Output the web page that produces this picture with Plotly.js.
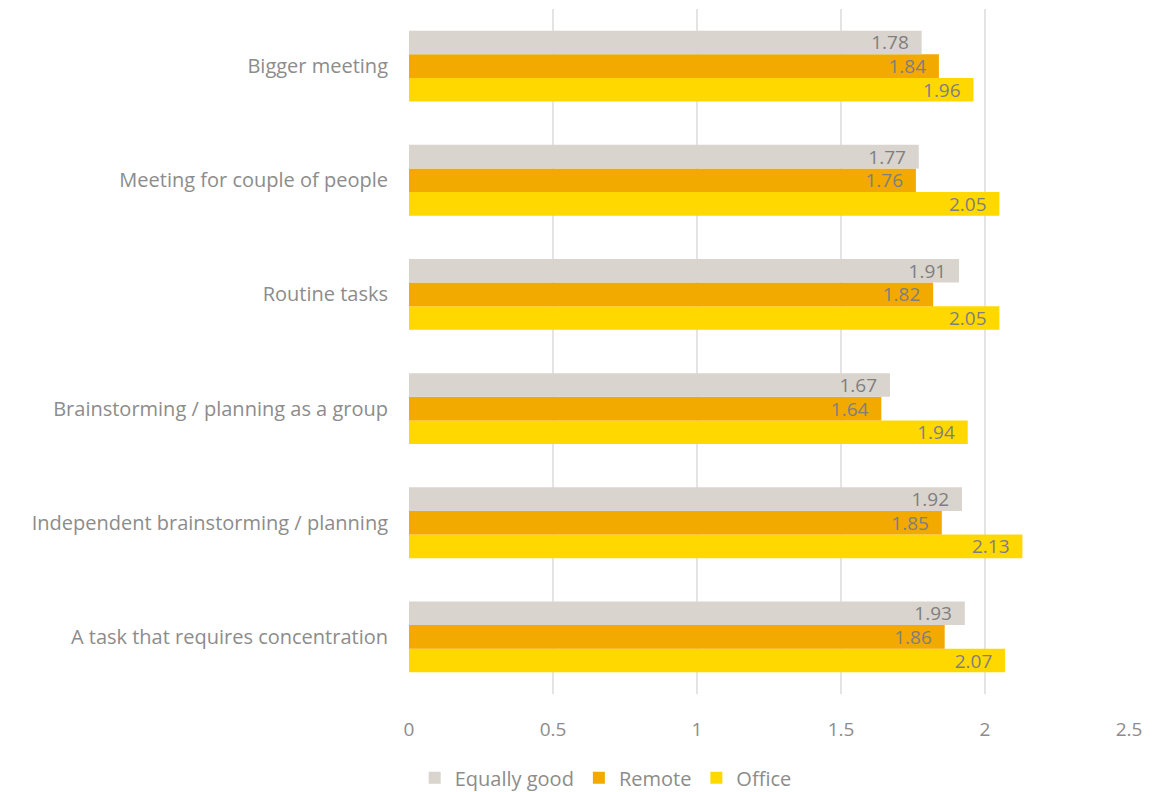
<!DOCTYPE html>
<html><head><meta charset="utf-8">
<script src="https://cdn.plot.ly/plotly-3.0.1.min.js"></script>
<style>body{margin:0;background:#fff}#c{width:1167px;height:792px}</style>
</head><body><div id="c"></div>
<script>
var categories = ["A task that requires concentration","Independent brainstorming / planning","Brainstorming / planning as a group","Routine tasks","Meeting for couple of people","Bigger meeting"];
var equallyGood = [1.93,1.92,1.67,1.91,1.77,1.78];
var remote = [1.86,1.85,1.64,1.82,1.76,1.84];
var office = [2.07,2.13,1.94,2.05,2.05,1.96];
var seriesNames = ["Equally good","Remote","Office"];
var tickVals = [0,0.5,1,1.5,2,2.5];
var tickText = ["0","0.5","1","1.5","2","2.5"];

var FONT = "Open Sans, Lato, sans-serif";
function mk(name, vals, color){
  return {type:'bar', orientation:'h', name:name, y:categories, x:vals,
    marker:{color:color},
    text:vals.map(function(v){return v.toFixed(2) + '\u00a0\u00a0';}),
    textposition:'inside', insidetextanchor:'end', constraintext:'none',
    textfont:{family:FONT,size:19,color:'#7f7f7f'}, hoverinfo:'x+name'};
}
var data = [mk(seriesNames[2], office, '#ffd800'), mk(seriesNames[1], remote, '#f2a900'), mk(seriesNames[0], equallyGood, '#d9d4ce')];
var layout = {
  width:1167, height:792, margin:{l:409,r:38,t:9,b:98},
  paper_bgcolor:'#fff', plot_bgcolor:'#fff',
  barmode:'group', bargap:0.38, bargroupgap:0,
  font:{family:FONT,color:'#7f7f7f'},
  xaxis:{range:[0,2.5], tickvals:tickVals, ticktext:tickText, showgrid:true, gridcolor:'#e4e4e4', gridwidth:1.5,
    zeroline:false, showline:false, ticks:'', ticklabelstandoff:22, tickfont:{family:FONT,size:19,color:'#8c8c8c'}, fixedrange:true},
  yaxis:{showgrid:false, zeroline:false, showline:false, ticks:'', ticklabelstandoff:20, tickfont:{family:FONT,size:20,color:'#8c8c8c'}},
  showlegend:true,
  legend:{orientation:'h', traceorder:'reversed', xref:'container', yref:'container', x:0.519, xanchor:'center', y:0.018, yanchor:'middle',
    font:{family:FONT,size:20,color:'#8c8c8c'}, itemwidth:30}
};
Plotly.newPlot('c', data, layout, {displayModeBar:false, staticPlot:true});
</script></body></html>
